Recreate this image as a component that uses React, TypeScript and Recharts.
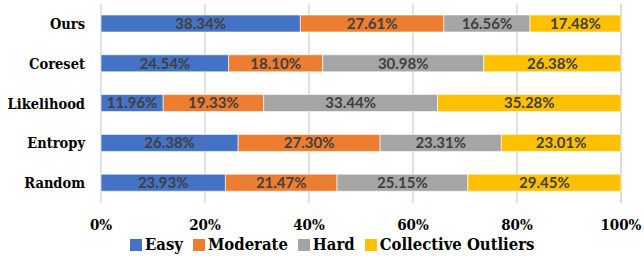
import { BarChart, Bar, XAxis, YAxis, CartesianGrid, Legend, LabelList } from 'recharts'

const methods = ['Ours', 'Coreset', 'Likelihood', 'Entropy', 'Random']
const easy = [38.34, 24.54, 11.96, 26.38, 23.93]
const moderate = [27.61, 18.1, 19.33, 27.3, 21.47]
const hard = [16.56, 30.98, 33.44, 23.31, 25.15]
const outliers = [17.48, 26.38, 35.28, 23.01, 29.45]
const xTicks = [0, 20, 40, 60, 80, 100]

const series = [
  { key: 'easy', name: 'Easy', color: '#4472C4' },
  { key: 'moderate', name: 'Moderate', color: '#ED7D31' },
  { key: 'hard', name: 'Hard', color: '#A5A5A5' },
  { key: 'outliers', name: 'Collective Outliers', color: '#FFC000' },
]

const data = methods.map((m, i) => ({
  method: m,
  easy: easy[i],
  moderate: moderate[i],
  hard: hard[i],
  outliers: outliers[i],
}))

const serif = 'DejaVu Serif Condensed, DejaVu Serif, serif'

function LegendRow() {
  return (
    <div style={{ display: 'flex', paddingLeft: 130, paddingTop: 2, alignItems: 'center', fontFamily: serif, fontWeight: 700, fontSize: 16.5, color: '#000', lineHeight: '20px' }}>
      {series.map((s) => (
        <div key={s.key} style={{ display: 'flex', alignItems: 'center', marginRight: 10 }}>
          <span style={{ display: 'inline-block', width: 12, height: 12, background: s.color, marginRight: 3 }} />
          <span>{s.name}</span>
        </div>
      ))}
    </div>
  )
}

export default function App() {
  return (
    <div style={{ position: 'absolute', left: 0, top: 0, width: 644, height: 257, background: '#fff' }}>
      <BarChart
        width={644}
        height={257}
        data={data}
        layout="vertical"
        margin={{ top: 4, right: 23, left: 0, bottom: 0 }}
      >
        <CartesianGrid horizontal={false} stroke="#d9d9d9" strokeWidth={1.5} />
        <XAxis
          type="number"
          domain={[0, 100]}
          ticks={xTicks}
          tickFormatter={(v: number) => `${v}%`}
          axisLine={false}
          tickLine={false}
          height={30}
          tickMargin={10}
          tick={{ fill: '#000', fontFamily: serif, fontWeight: 700, fontSize: 15 }}
        />
        <YAxis
          type="category"
          dataKey="method"
          width={101}
          axisLine={false}
          tickLine={false}
          tickMargin={10}
          tick={{ fill: '#000', fontFamily: serif, fontWeight: 700, fontSize: 14.5 }}
        />
        <Legend
          verticalAlign="bottom"
          height={24}
          content={() => <LegendRow />}
        />
        {series.map((s) => (
          <Bar key={s.key} dataKey={s.key} name={s.name} stackId="a" fill={s.color} barSize={17} stroke="#fff" strokeWidth={0.6} isAnimationActive={false}>
            <LabelList
              dataKey={s.key}
              position="center"
              formatter={(v: number) => `${v.toFixed(2)}%`}
              style={{ fill: '#404040', fontFamily: 'Lato, sans-serif', fontWeight: 700, fontSize: 15 }}
            />
          </Bar>
        ))}
      </BarChart>
    </div>
  )
}
